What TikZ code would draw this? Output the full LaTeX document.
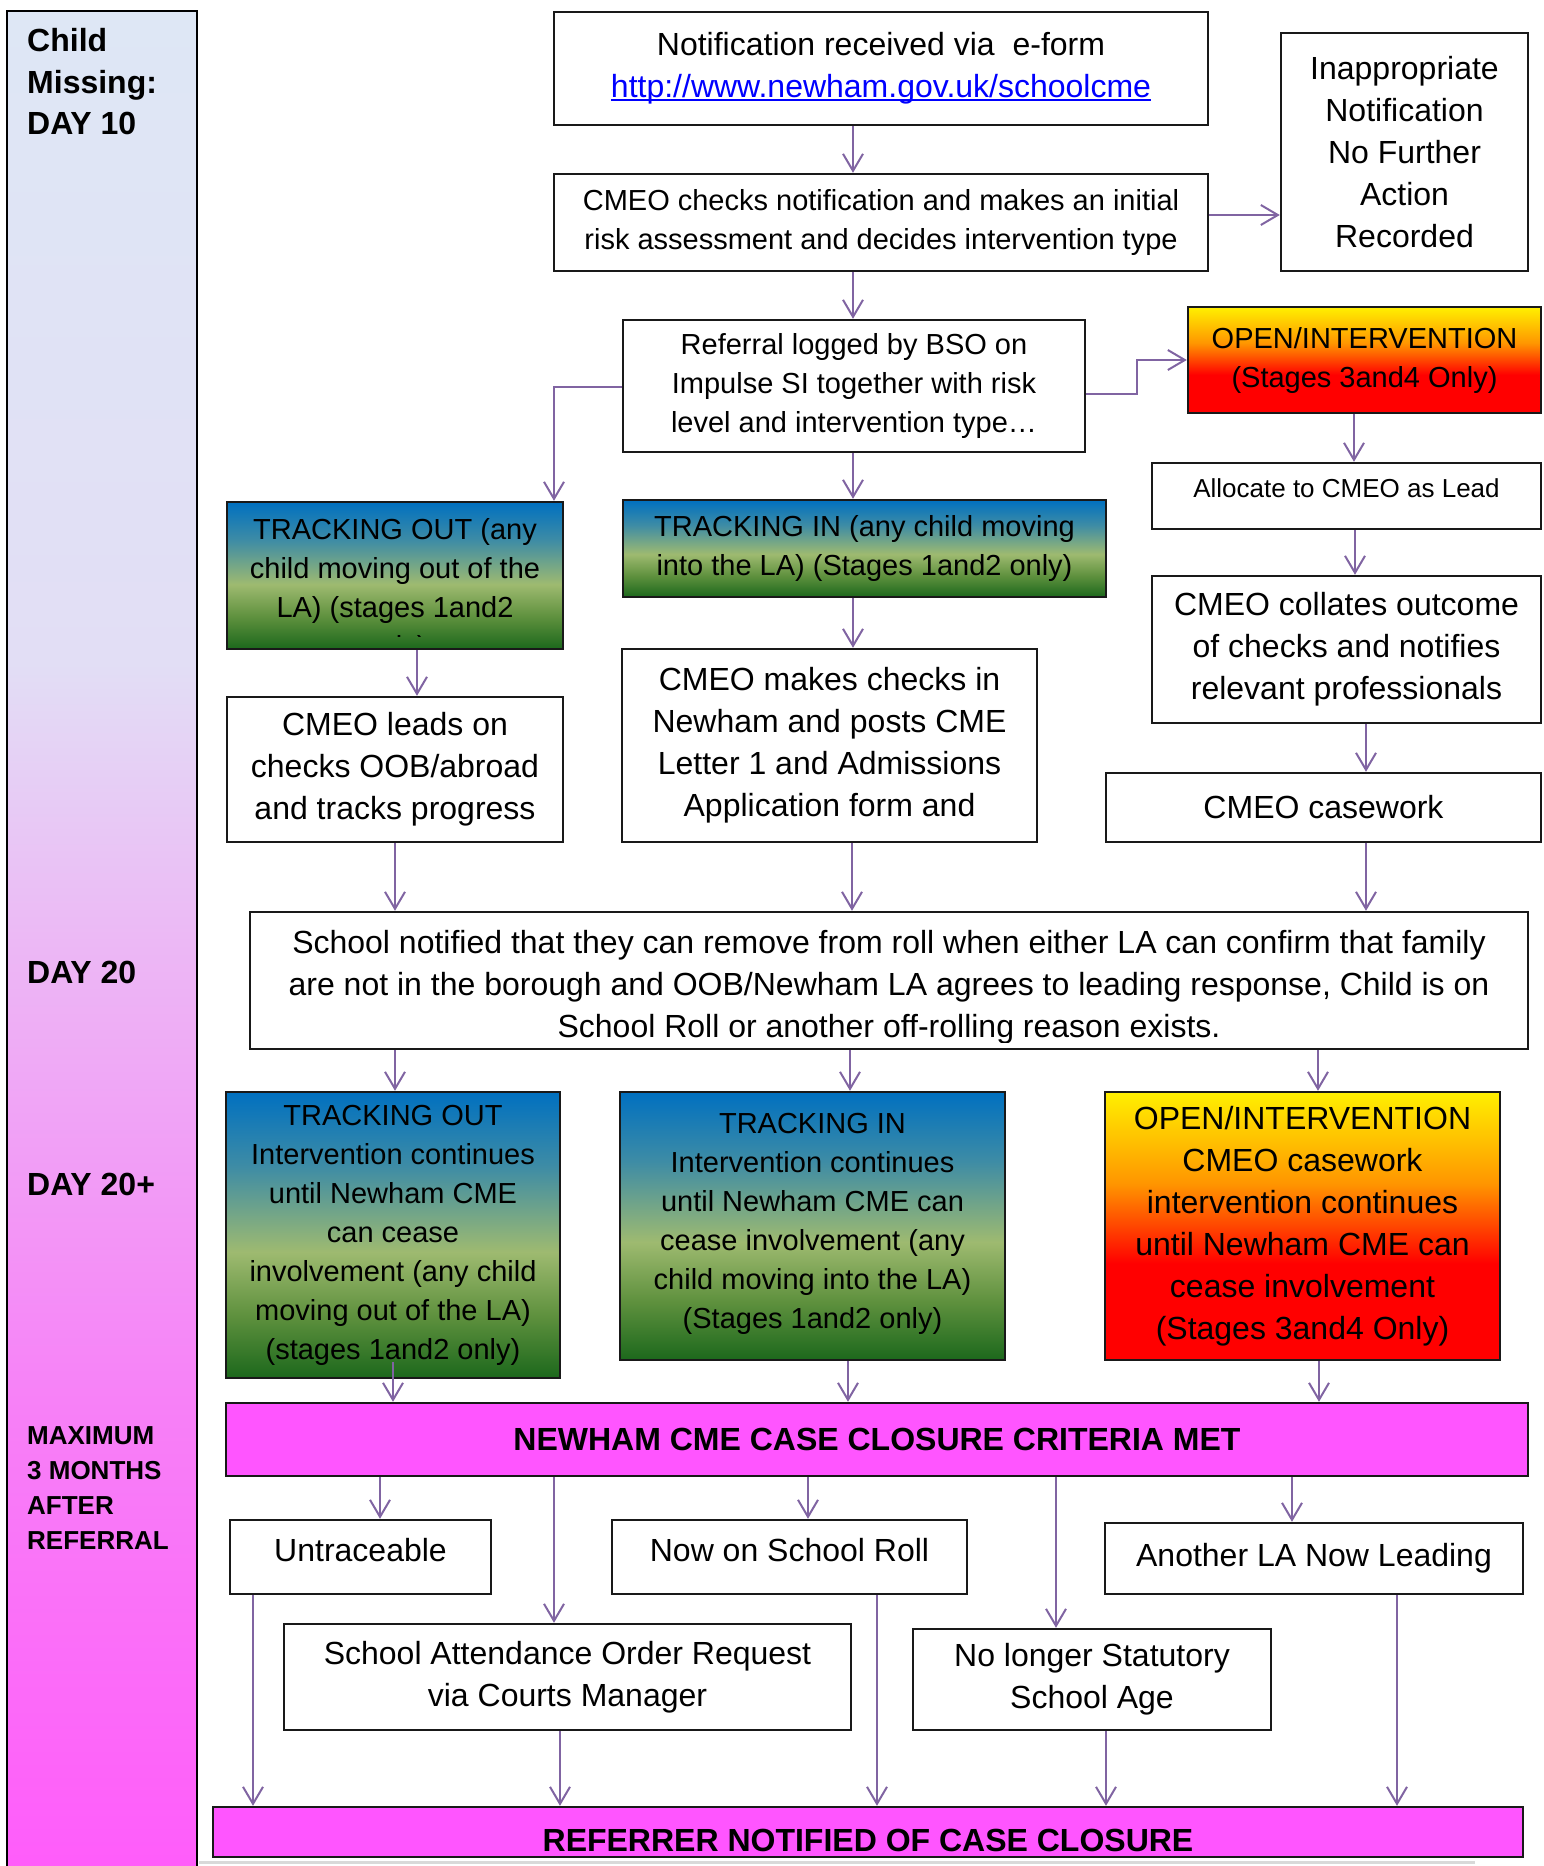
\documentclass[tikz,border=0pt]{standalone}
\usepackage{fontspec}
\setmainfont{Liberation Sans}
\usetikzlibrary{arrows.meta}

\definecolor{arrowpurple}{RGB}{128,100,162}
\definecolor{boxmagenta}{RGB}{255,85,255}
\definecolor{linkblue}{RGB}{0,0,255}
\definecolor{trkbot}{RGB}{28,104,28}
\definecolor{trkgrn}{RGB}{95,145,62}
\definecolor{trkkhk}{RGB}{158,186,112}
\definecolor{trkteal}{RGB}{62,140,165}
\definecolor{trktop}{RGB}{0,112,192}
\definecolor{opnred}{RGB}{255,0,0}
\definecolor{opnorg}{RGB}{255,150,0}
\definecolor{opnyel}{RGB}{255,240,0}
\definecolor{sidetop}{RGB}{222,231,245}
\definecolor{sidelav}{RGB}{226,222,245}
\definecolor{sidepnk}{RGB}{236,184,245}
\definecolor{sidemag}{RGB}{247,128,247}
\definecolor{sidebot}{RGB}{255,92,250}

\pgfdeclareverticalshading{trackshade}{100bp}{color(0bp)=(trkbot); color(25bp)=(trkbot); color(36bp)=(trkgrn); color(47bp)=(trkkhk); color(62bp)=(trkteal); color(75bp)=(trktop); color(100bp)=(trktop)}
\pgfdeclareverticalshading{openshade}{100bp}{color(0bp)=(opnred); color(25bp)=(opnred); color(43bp)=(opnred); color(58bp)=(opnorg); color(75bp)=(opnyel); color(100bp)=(opnyel)}
\pgfdeclareverticalshading{sideshade}{100bp}{color(0bp)=(sidebot); color(25bp)=(sidebot); color(37.5bp)=(sidemag); color(50bp)=(sidepnk); color(57.5bp)=(sidelav); color(75bp)=(sidetop); color(100bp)=(sidetop)}

\newcommand\fbig{\fontsize{32pt}{42pt}\selectfont}
\newcommand\fmid{\fontsize{29pt}{39pt}\selectfont}
\newcommand\fsml{\fontsize{26pt}{35pt}\selectfont}
\newcommand\linkul[1]{\setbox0\hbox{#1}\rlap{\rule[-4pt]{\wd0}{2pt}}\box0}

\begin{document}
\begin{tikzpicture}[x=1pt,y=-1pt,
  frame/.style={draw=black!90,line width=2.4pt,inner sep=0pt,align=center,font=\fbig},
  box/.style={frame,fill=white},
  trk/.style={frame,shade,shading=trackshade},
  opn/.style={frame,shade,shading=openshade},
  mag/.style={frame,fill=boxmagenta,font=\fbig\bfseries},
  wh/.style 2 args={minimum width=#1pt,minimum height=#2pt},
  txt/.style={inner sep=0pt,align=center,font=\fbig},
  side/.style={inner sep=0pt,align=left,font=\fontsize{32pt}{41.5pt}\selectfont\bfseries},
  arr/.style={draw=arrowpurple,line width=2pt,-{Straight Barb[length=17pt,width=20pt]}}]
\useasboundingbox (0,0) rectangle (1543,1866);

\draw[line width=2.4pt,shade,shading=sideshade] (7,11) rectangle (197,1874);
\node[side,anchor=north west] (lblA) at (27,28.5) {Child\\Missing:\\DAY 10};
\node[side,anchor=base west] (lblB) at (27,983) {DAY 20};
\node[side,anchor=base west] (lblC) at (27,1195) {DAY 20+};
\node[side,font=\fsml\bfseries,anchor=north west] (lblD) at (27,1426.5) {MAXIMUM\\3 MONTHS\\AFTER\\REFERRAL};
\draw[line width=3pt,black!15] (199,1862) -- (1475,1862);

\node[box,wh={654}{113}] (notif) at (881,68.5) {Notification received via\ \ e-form\\\textcolor{linkblue}{\linkul{http://www.newham.gov.uk/schoolcme}}\\[-34pt]};
\node[box,font=\fmid,wh={654}{97}] (check) at (881,222.5) {CMEO checks notification and makes an initial\\risk assessment and decides intervention type};
\node[box,wh={247}{238}] (inapp) at (1404.5,152) {Inappropriate\\Notification\\No Further\\Action\\Recorded};
\node[box,font=\fmid,wh={462}{132}] (refl) at (854,386) {Referral logged by BSO on\\Impulse SI together with risk\\level and intervention type…};
\node[opn,font=\fmid,wh={353}{106}] (openA) at (1364.5,360) {OPEN/INTERVENTION\\(Stages 3and4 Only)};
\node[box,font=\fsml,text depth=16pt,wh={389}{66}] (alloc) at (1346.5,496) {Allocate to CMEO as Lead};
\node[box,wh={389}{147}] (coll) at (1346.5,649.5) {CMEO collates outcome\\of checks and notifies\\relevant professionals};
\node[box,wh={435}{69}] (case) at (1323.5,807.5) {CMEO casework};

\node[trk,wh={336}{147}] (toutA) at (395,575.5) {};
\begin{scope}
\clip (toutA.north west) rectangle ([yshift=14pt]toutA.south east);
\node[txt,font=\fmid] (toutAtxt) at (395,590) {TRACKING OUT (any\\child moving out of the\\LA) (stages 1and2\\only)};
\end{scope}
\node[trk,font=\fmid,wh={483}{97}] (tinA) at (864.5,548.5) {TRACKING IN (any child moving\\into the LA) (Stages 1and2 only)};
\node[box,wh={336}{145}] (lead) at (395,769.5) {CMEO leads on\\checks OOB/abroad\\and tracks progress};
\node[box,wh={415}{193}] (mk) at (829.5,745.5) {CMEO makes checks in\\Newham and posts CME\\Letter 1 and Admissions\\Application form and};

\node[box,wh={1278}{137}] (schl) at (889,980.5) {};
\begin{scope}
\clip (schl.north west) rectangle ([yshift=8pt]schl.south east);
\node[txt] (schltxt) at (889,987) {School notified that they can remove from roll when either LA can confirm that family\\are not in the borough and OOB/Newham LA agrees to leading response, Child is on\\School Roll or another off-rolling reason exists.};
\end{scope}

\node[trk,font=\fmid,wh={334}{286}] (toutB) at (393,1235) {TRACKING OUT\\Intervention continues\\until Newham CME\\can cease\\involvement (any child\\moving out of the LA)\\(stages 1and2 only)};
\node[trk,font=\fmid,wh={385}{268}] (tinB) at (812.5,1226) {TRACKING IN\\Intervention continues\\until Newham CME can\\cease involvement (any\\child moving into the LA)\\(Stages 1and2 only)\\[-29pt]};
\node[opn,wh={395}{268}] (openB) at (1302.5,1226) {OPEN/INTERVENTION\\CMEO casework\\intervention continues\\until Newham CME can\\cease involvement\\(Stages 3and4 Only)};
\node[mag,wh={1302}{73}] (crit) at (877,1439.5) {NEWHAM CME CASE CLOSURE CRITERIA MET};

\node[box,text depth=14pt,wh={261}{74}] (untr) at (360.5,1557) {Untraceable};
\node[box,text depth=14pt,wh={355}{74}] (roll) at (789.5,1557) {Now on School Roll};
\node[box,wh={418}{71}] (anla) at (1314,1558.5) {Another LA Now Leading};
\node[box,wh={567}{106}] (sao) at (567.5,1677) {School Attendance Order Request\\via Courts Manager};
\node[box,wh={358}{101}] (nolg) at (1092,1679.5) {No longer Statutory\\School Age};

\node[mag,wh={1310}{50}] (refr) at (868,1832) {};
\begin{scope}
\clip (refr.north west) rectangle ([yshift=2pt]refr.south east);
\node[txt,font=\fbig\bfseries,anchor=base] (refrtxt) at (868,1851) {REFERRER NOTIFIED OF CASE CLOSURE};
\end{scope}

\draw[arr] (notif.south -| 853,0) -- (check.north -| 853,0);
\draw[arr] (check.east |- 0,215) -- (inapp.west |- 0,215);
\draw[arr] (check.south -| 853,0) -- (refl.north -| 853,0);
\draw[arr] (refl.east |- 0,394) -- (1137,394) -- (1137,360) -- (openA.west);
\draw[arr] (refl.west |- 0,387) -- (554,387) -- (toutA.north -| 554,0);
\draw[arr] (refl.south -| 853,0) -- (tinA.north -| 853,0);
\draw[arr] (openA.south -| 1354,0) -- (alloc.north -| 1354,0);
\draw[arr] (alloc.south -| 1355,0) -- (coll.north -| 1355,0);
\draw[arr] (coll.south -| 1366,0) -- (case.north -| 1366,0);
\draw[arr] (toutA.south -| 417,0) -- (lead.north -| 417,0);
\draw[arr] (tinA.south -| 853,0) -- (mk.north -| 853,0);
\draw[arr] (lead.south -| 395,0) -- (schl.north -| 395,0);
\draw[arr] (mk.south -| 852,0) -- (schl.north -| 852,0);
\draw[arr] (case.south -| 1366,0) -- (schl.north -| 1366,0);
\draw[arr] (schl.south -| 395,0) -- (toutB.north -| 395,0);
\draw[arr] (schl.south -| 850,0) -- (tinB.north -| 850,0);
\draw[arr] (schl.south -| 1318,0) -- (openB.north -| 1318,0);
\coordinate (toutBs) at (393,1362);
\draw[arr] (toutBs) -- (crit.north -| toutBs);
\draw[arr] (tinB.south -| 848,0) -- (crit.north -| 848,0);
\draw[arr] (openB.south -| 1319,0) -- (crit.north -| 1319,0);
\draw[arr] (crit.south -| 380,0) -- (untr.north -| 380,0);
\draw[arr] (crit.south -| 554,0) -- (sao.north -| 554,0);
\draw[arr] (crit.south -| 808,0) -- (roll.north -| 808,0);
\draw[arr] (crit.south -| 1056,0) -- (nolg.north -| 1056,0);
\draw[arr] (crit.south -| 1292,0) -- (anla.north -| 1292,0);
\draw[arr] (untr.south -| 253,0) -- (refr.north -| 253,0);
\draw[arr] (sao.south -| 560,0) -- (refr.north -| 560,0);
\draw[arr] (roll.south -| 877,0) -- (refr.north -| 877,0);
\draw[arr] (nolg.south -| 1106,0) -- (refr.north -| 1106,0);
\draw[arr] (anla.south -| 1397,0) -- (refr.north -| 1397,0);
\end{tikzpicture}
\end{document}
